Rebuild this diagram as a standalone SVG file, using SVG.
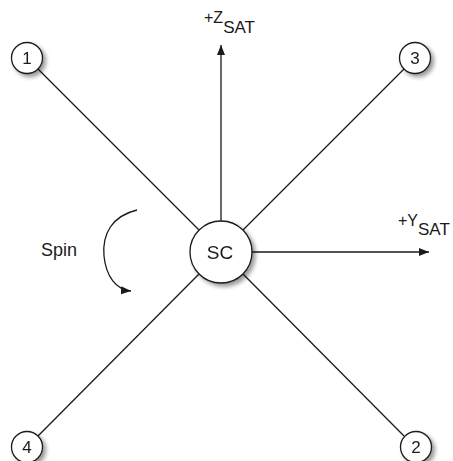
<svg xmlns="http://www.w3.org/2000/svg" width="453" height="461" viewBox="0 0 453 461">
<defs>
<style>
.ln{stroke:#1a1a1a;stroke-width:1.3;fill:none}
.nd{fill:#fff;stroke:#1a1a1a;stroke-width:1.3}
.t{font-family:"Liberation Sans",Arial,sans-serif;fill:#1a1a1a}
</style>
<filter id="sh" x="-30%" y="-30%" width="170%" height="170%">
<feGaussianBlur in="SourceAlpha" stdDeviation="2"/>
<feOffset dx="3" dy="3" result="b"/>
<feComponentTransfer><feFuncA type="linear" slope="0.4"/></feComponentTransfer>
<feMerge><feMergeNode/><feMergeNode in="SourceGraphic"/></feMerge>
</filter>
<marker id="ah" viewBox="0 0 10 10" refX="10" refY="5" markerWidth="10" markerHeight="10" markerUnits="userSpaceOnUse" orient="auto">
<path d="M0,1 L10,5 L0,9 Z" fill="#1a1a1a"/>
</marker>
</defs>
<rect width="453" height="461" fill="#fff"/>
<g id="connectors">
<line class="ln" x1="199" y1="230" x2="38" y2="69"/>
<line class="ln" x1="243" y1="230" x2="404" y2="69"/>
<line class="ln" x1="199" y1="274" x2="38" y2="436"/>
<line class="ln" x1="243" y1="274" x2="404" y2="436"/>
<line class="ln" x1="221" y1="221" x2="221" y2="45" marker-end="url(#ah)"/>
<line class="ln" x1="252" y1="252" x2="429" y2="252" marker-end="url(#ah)"/>
<path class="ln" d="M137,210 C112,216 102,234 104,256 C106,276 116,290 131,291" marker-end="url(#ah)"/>
</g>
<g id="label-z"><text class="t" x="204" y="23" font-size="16">+Z<tspan font-size="17" dy="10">SAT</tspan></text></g>
<g id="label-y"><text class="t" x="398" y="226" font-size="16">+Y<tspan font-size="17" dy="9">SAT</tspan></text></g>
<g id="label-spin"><text class="t" x="41" y="256" font-size="18">Spin</text></g>
<g id="SC" filter="url(#sh)"><circle class="nd" cx="221" cy="252" r="31"/><text class="t" x="220" y="259" font-size="19" text-anchor="middle">SC</text></g>
<g id="n1" filter="url(#sh)"><circle class="nd" cx="27" cy="58" r="15.5"/><text class="t" x="27" y="64" font-size="17" text-anchor="middle">1</text></g>
<g id="n3" filter="url(#sh)"><circle class="nd" cx="415" cy="58" r="15.5"/><text class="t" x="415" y="64" font-size="17" text-anchor="middle">3</text></g>
<g id="n4" filter="url(#sh)"><circle class="nd" cx="27" cy="447" r="15.5"/><text class="t" x="27" y="453" font-size="17" text-anchor="middle">4</text></g>
<g id="n2" filter="url(#sh)"><circle class="nd" cx="416" cy="447" r="15.5"/><text class="t" x="416" y="453" font-size="17" text-anchor="middle">2</text></g>
</svg>
